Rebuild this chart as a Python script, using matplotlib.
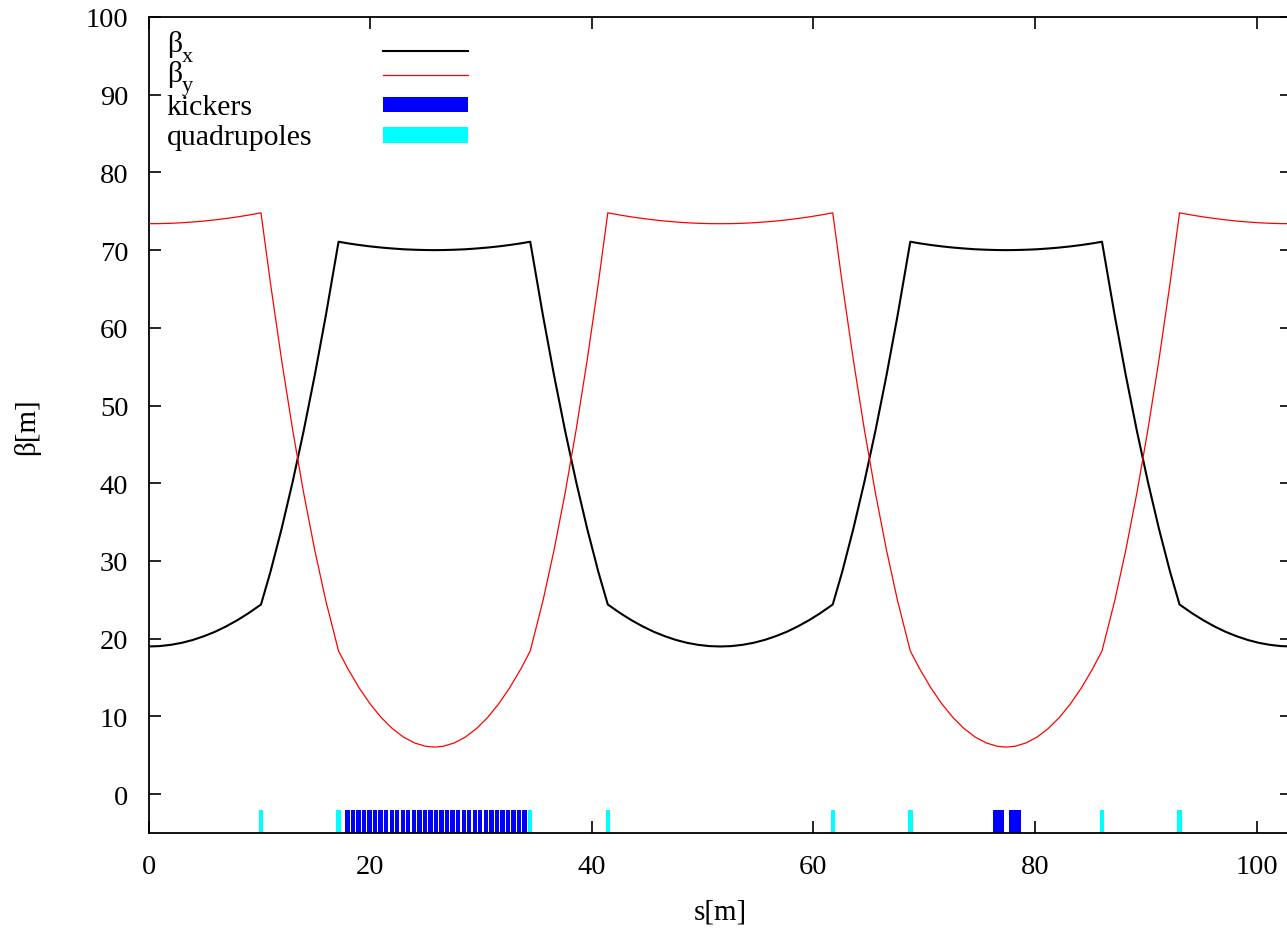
import matplotlib
matplotlib.use("Agg")
import matplotlib.pyplot as plt
from matplotlib.patches import Rectangle

# lattice position s [m] and beta functions
S = [0, 1, 2, 3, 4, 5, 6, 7, 8, 9, 10.15,
     11, 12, 13, 14, 15, 16, 17.15,
     18, 19, 20, 21, 22, 23, 24, 25, 25.8, 26.6, 27.6, 28.6, 29.6, 30.6,
     31.6, 32.6, 33.6, 34.45,
     35.6, 36.6, 37.6, 38.6, 39.6, 40.6, 41.45,
     42.6, 43.6, 44.6, 45.6, 46.6, 47.6, 48.6, 49.6, 50.6, 51.6,
     52.6, 53.6, 54.6, 55.6, 56.6, 57.6, 58.6, 59.6, 60.6, 61.75,
     62.6, 63.6, 64.6, 65.6, 66.6, 67.6, 68.75,
     69.6, 70.6, 71.6, 72.6, 73.6, 74.6, 75.6, 76.6, 77.4, 78.2, 79.2, 80.2,
     81.2, 82.2, 83.2, 84.2, 85.2, 86.05,
     87.2, 88.2, 89.2, 90.2, 91.2, 92.2, 93.05,
     94.2, 95.2, 96.2, 97.2, 98.2, 99.2, 100.2, 101.2, 102.2, 103.2]

BETA_X = [19.00, 19.05, 19.21, 19.47, 19.84, 20.32, 20.89, 21.58, 22.37,
          23.26, 24.40,
          28.58, 34.09, 40.14, 46.73, 53.88, 61.57, 71.08,
          70.87, 70.66, 70.48, 70.33, 70.21, 70.11, 70.05, 70.01, 70.00,
          70.01, 70.05, 70.11, 70.21, 70.33, 70.48, 70.66, 70.87, 71.08,
          61.57, 53.88, 46.73, 40.14, 34.09, 28.58, 24.40,
          23.26, 22.37, 21.58, 20.89, 20.32, 19.84, 19.47, 19.21, 19.05,
          19.00,
          19.05, 19.21, 19.47, 19.84, 20.32, 20.89, 21.58, 22.37, 23.26,
          24.40,
          28.58, 34.09, 40.14, 46.73, 53.88, 61.57, 71.08,
          70.87, 70.66, 70.48, 70.33, 70.21, 70.11, 70.05, 70.01, 70.00,
          70.01, 70.05, 70.11, 70.21, 70.33, 70.48, 70.66, 70.87, 71.08,
          61.57, 53.88, 46.73, 40.14, 34.09, 28.58, 24.40,
          23.26, 22.37, 21.58, 20.89, 20.32, 19.84, 19.47, 19.21, 19.05,
          19.00]

BETA_Y = [73.40, 73.41, 73.45, 73.52, 73.62, 73.74, 73.89, 74.07, 74.27,
          74.50, 74.80,
          65.80, 55.96, 46.95, 38.76, 31.41, 24.89, 18.42,
          16.11, 13.69, 11.61, 9.86, 8.44, 7.35, 6.59, 6.16, 6.05,
          6.16, 6.59, 7.35, 8.44, 9.86, 11.61, 13.69, 16.11, 18.42,
          24.89, 31.41, 38.76, 46.95, 55.96, 65.80, 74.80,
          74.50, 74.27, 74.07, 73.89, 73.74, 73.62, 73.52, 73.45, 73.41,
          73.40,
          73.41, 73.45, 73.52, 73.62, 73.74, 73.89, 74.07, 74.27, 74.50,
          74.80,
          65.80, 55.96, 46.95, 38.76, 31.41, 24.89, 18.42,
          16.11, 13.69, 11.61, 9.86, 8.44, 7.35, 6.59, 6.16, 6.05,
          6.16, 6.59, 7.35, 8.44, 9.86, 11.61, 13.69, 16.11, 18.42,
          24.89, 31.41, 38.76, 46.95, 55.96, 65.80, 74.80,
          74.50, 74.27, 74.07, 73.89, 73.74, 73.62, 73.52, 73.45, 73.41,
          73.40]

# element positions [m]
QUAD_S = [10.15, 17.15, 34.43, 41.45, 61.78, 68.78, 86.05, 93.05]
QUAD_L = 0.4

KICK_S = [17.75, 18.25, 18.75, 19.25, 19.75, 20.25, 20.75, 21.25, 21.75,
          22.25, 22.75, 23.25, 23.75, 24.25, 24.75, 25.25, 25.75, 26.25,
          26.75, 27.25, 27.75, 28.25, 28.75, 29.25, 29.75, 30.25, 30.75,
          31.25, 31.75, 32.25, 32.75, 33.25, 33.75,
          76.17, 77.66]
KICK_L = [0.39] * 33 + [1.02, 1.09]

ELEM_BOTTOM, ELEM_TOP = -5, -2

BLUE = "#0000ff"
CYAN = "#00ffff"
RED = "#ff0000"

plt.rcParams["font.family"] = ["Liberation Serif", "DejaVu Serif"]

fig = plt.figure(figsize=(12.87, 9.29), dpi=100)
ax = fig.add_axes([0.1154, 0.10226, 0.8885, 0.8784])

ax.plot(S, BETA_X, color="black", lw=1.5, zorder=3)
ax.plot(S, BETA_Y, color=RED, lw=0.9, zorder=3)

ax.bar(KICK_S, ELEM_TOP - ELEM_BOTTOM, width=KICK_L, bottom=ELEM_BOTTOM,
       align="edge", color=BLUE, linewidth=0, zorder=2)
ax.bar(QUAD_S, ELEM_TOP - ELEM_BOTTOM, width=QUAD_L, bottom=ELEM_BOTTOM,
       align="center", color=CYAN, linewidth=0, zorder=2)

ax.set_xlim(0, 103.2)
ax.set_ylim(-5, 100)
ax.set_xticks([0, 20, 40, 60, 80, 100])
ax.set_yticks(range(0, 101, 10))
ax.tick_params(direction="in", length=8.6, width=1.2, top=True, right=True,
               labelsize=20.5, colors="black")
ax.tick_params(axis="x", pad=15)
ax.tick_params(axis="y", pad=14.5)
for sp in ax.spines.values():
    sp.set_linewidth(1.3)

ax.set_xlabel("s[m]", fontsize=21, labelpad=14)
fig.text(27 / 1287, 1 - 427 / 929, "β[m]", rotation=90, ha="center",
         va="center", fontsize=21)

# legend, gnuplot style: labels on the left, samples on the right
tr = ax.transAxes
x_txt, x_sub, x0, x1 = 0.0159, 0.0293, 0.2051, 0.2794
fs = 21.5
ax.text(x_txt, 0.9577, "β", transform=tr, fontsize=fs, va="baseline")
ax.text(x_sub, 0.9455, "x", transform=tr, fontsize=16, va="baseline")
ax.text(x_txt, 0.9216, "β", transform=tr, fontsize=fs, va="baseline")
ax.text(x_sub, 0.9100, "y", transform=tr, fontsize=16, va="baseline")
ax.text(x_txt, 0.8817, "kickers", transform=tr, fontsize=fs, va="baseline")
ax.text(x_txt, 0.8444, "quadrupoles", transform=tr, fontsize=fs,
        va="baseline")
ax.plot([x0, x1], [0.9587, 0.9587], transform=tr, color="black", lw=1.5)
ax.plot([x0, x1], [0.9289, 0.9289], transform=tr, color=RED, lw=0.9)
ax.add_patch(Rectangle((x0, 0.8832), x1 - x0, 0.0184, transform=tr,
                       facecolor=BLUE, linewidth=0))
ax.add_patch(Rectangle((x0, 0.8456), x1 - x0, 0.0192, transform=tr,
                       facecolor=CYAN, linewidth=0))

fig.savefig("out.png", dpi=100, facecolor="white")
